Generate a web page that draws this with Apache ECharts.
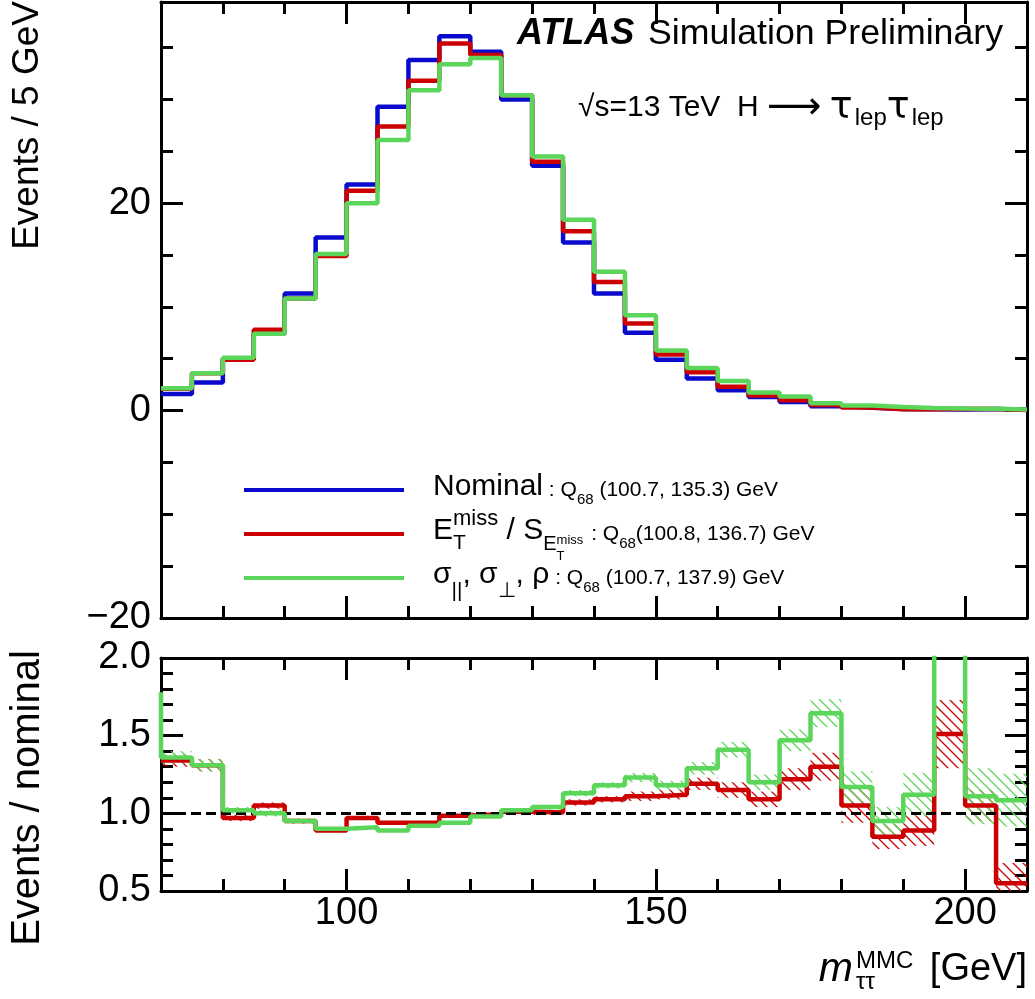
<!DOCTYPE html>
<html lang="en">
<head>
<meta charset="UTF-8">
<title>MMC mass</title>
<script src="https://cdn.jsdelivr.net/npm/echarts@6/dist/echarts.min.js"></script>
<style>
  html, body { margin: 0; padding: 0; background: #fff; }
  #main { width: 1035px; height: 999px; }
</style>
</head>
<body>
<div id="main"></div>
<script>
// bins of 5 GeV, low edges
var binLow = [70, 75, 80, 85, 90, 95, 100, 105, 110, 115, 120, 125, 130, 135,
              140, 145, 150, 155, 160, 165, 170, 175, 180, 185, 190, 195, 200, 205];
var xMin = 70, xMax = 210;

// top panel: events / 5 GeV
var nominal = [1.6, 2.7, 5.0, 7.4, 11.3, 16.7, 21.8, 29.3, 33.8, 36.1, 34.6, 30.0, 23.6, 16.2,
               11.3, 7.5, 4.9, 3.1, 1.95, 1.3, 0.84, 0.42, 0.28, 0.16, 0.14, 0.11, 0.15, 0.1];
var metSig  = [2.1, 3.6, 4.9, 7.8, 10.8, 14.9, 21.2, 27.4, 31.8, 35.4, 34.3, 30.4, 24.0, 17.3,
               12.4, 8.4, 5.4, 3.7, 2.3, 1.45, 1.0, 0.55, 0.3, 0.14, 0.12, 0.17, 0.16, 0.06];
var sigRho  = [2.15, 3.6, 5.1, 7.4, 10.8, 15.1, 20.0, 26.1, 30.9, 33.4, 34.0, 30.4, 24.5, 18.4,
               13.4, 9.2, 5.8, 4.1, 2.85, 1.75, 1.35, 0.7, 0.5, 0.35, 0.26, 0.2, 0.17, 0.11];

// bottom panel: ratio to nominal and its uncertainty
var ratioMet = [1.34, 1.31, 0.97, 1.05, 0.95, 0.89, 0.97, 0.94, 0.94, 0.985, 0.995, 1.01, 1.005, 1.07,
                1.09, 1.11, 1.12, 1.19, 1.15, 1.09, 1.22, 1.30, 1.05, 0.85, 0.89, 1.51, 1.05, 0.55];
var errMet   = [0.04, 0.04, 0.02, 0.02, 0.015, 0.01, 0.01, 0.01, 0.01, 0.01, 0.01, 0.01, 0.015, 0.02,
                0.02, 0.03, 0.03, 0.04, 0.05, 0.05, 0.07, 0.09, 0.11, 0.08, 0.1, 0.22, 0.1, 0.13];
var ratioSig = [1.36, 1.31, 1.02, 1.00, 0.95, 0.90, 0.91, 0.89, 0.92, 0.94, 0.98, 1.02, 1.04, 1.13,
                1.18, 1.23, 1.18, 1.29, 1.41, 1.20, 1.47, 1.645, 1.17, 0.95, 1.12, 2.5, 1.11, 1.085];
var errSig   = [0.04, 0.04, 0.02, 0.02, 0.015, 0.01, 0.01, 0.01, 0.01, 0.01, 0.01, 0.01, 0.015, 0.02,
                0.02, 0.03, 0.03, 0.04, 0.05, 0.05, 0.07, 0.09, 0.1, 0.09, 0.14, 0.3, 0.18, 0.17];
var sigUnderflow = 1.78;

// ticks
var xMajor = [100, 150, 200];
var xMinor = [80, 90, 110, 120, 130, 140, 160, 170, 180, 190];
var yTopRange = [-20, 39.4];
var yTopMajor = [-20, 0, 20];
var yTopMinor = [-15, -10, -5, 5, 10, 15, 25, 30, 35];
var yBotRange = [0.5, 2.0];
var yBotMajor = [0.5, 1.0, 1.5, 2.0];
var yBotMinor = [0.6, 0.7, 0.8, 0.9, 1.1, 1.2, 1.3, 1.4, 1.6, 1.7, 1.8, 1.9];

var F = "'Liberation Sans', Arial, Helvetica, sans-serif";
var DJ = "'DejaVu Sans', sans-serif";
var BLUE = '#0a0acc', RED = '#cc0000', GREEN = '#5bd65b';

function steps(vals) {
    var d = binLow.map(function (x, i) { return [x, vals[i]]; });
    d.push([xMax, vals[vals.length - 1]]);
    return d;
}

function hatch(color) {
    var c = document.createElement('canvas');
    c.width = 10; c.height = 10;
    var ctx = c.getContext('2d');
    ctx.strokeStyle = color;
    ctx.lineWidth = 1.3;
    ctx.beginPath();
    ctx.moveTo(-1, -1); ctx.lineTo(11, 11);
    ctx.moveTo(-1, 9); ctx.lineTo(1, 11);
    ctx.moveTo(9, -1); ctx.lineTo(11, 1);
    ctx.stroke();
    return c;
}

function axis(dim, g, pos, range, ticks, len, line, labels, fmt) {
    return {
        type: 'value', gridIndex: g, position: pos,
        min: range[0], max: range[1],
        axisLine: { show: line, onZero: false, lineStyle: { color: '#000', width: 3 } },
        axisTick: { show: true, inside: true, length: len, customValues: ticks,
                    lineStyle: { color: '#000', width: 3 } },
        axisLabel: labels ? {
            show: true, customValues: labels, formatter: fmt, color: '#000',
            fontSize: 38, fontFamily: F, margin: dim === 'x' ? 4 : 10
        } : { show: false },
        splitLine: { show: false },
        minorTick: { show: false }
    };
}

var xr = [xMin, xMax];
var minusFmt = function (v) { return v < 0 ? '\u2212' + Math.abs(v) : '' + v; };
var oneDec = function (v) { return v.toFixed(1); };

var xAxes = [
    axis('x', 0, 'bottom', xr, xMajor, 22, true),
    axis('x', 0, 'bottom', xr, xMinor, 12, false),
    axis('x', 0, 'top', xr, xMajor, 22, true),
    axis('x', 0, 'top', xr, xMinor, 12, false),
    axis('x', 1, 'bottom', xr, xMajor, 22, true, xMajor, function (v) { return '' + v; }),
    axis('x', 1, 'bottom', xr, xMinor, 12, false),
    axis('x', 1, 'top', xr, xMajor, 22, true),
    axis('x', 1, 'top', xr, xMinor, 12, false)
];
var yAxes = [
    axis('y', 0, 'left', yTopRange, yTopMajor, 22, true, yTopMajor, minusFmt),
    axis('y', 0, 'left', yTopRange, yTopMinor, 12, false),
    axis('y', 0, 'right', yTopRange, yTopMajor, 22, true),
    axis('y', 0, 'right', yTopRange, yTopMinor, 12, false),
    axis('y', 1, 'left', yBotRange, yBotMajor, 22, true, yBotMajor, oneDec),
    axis('y', 1, 'left', yBotRange, yBotMinor, 12, false),
    axis('y', 1, 'right', yBotRange, yBotMajor, 22, true),
    axis('y', 1, 'right', yBotRange, yBotMinor, 12, false)
];

function histLine(name, vals, color, xi, yi, z) {
    return {
        name: name, type: 'line', step: 'end', data: steps(vals),
        xAxisIndex: xi, yAxisIndex: yi, symbol: 'none', z: z,
        lineStyle: { color: color, width: 4.5 }, itemStyle: { color: color },
        clip: true
    };
}

function band(vals, errs, color, z) {
    var pat = { image: hatch(color), repeat: 'repeat' };
    return {
        type: 'custom', xAxisIndex: 4, yAxisIndex: 4, z: z, clip: true,
        data: binLow.map(function (x, i) { return [x, x + 5, vals[i] - errs[i], vals[i] + errs[i]]; }),
        encode: { x: [0, 1], y: [2, 3] },
        renderItem: function (params, api) {
            var a = api.coord([api.value(0), api.value(3)]);
            var b = api.coord([api.value(1), api.value(2)]);
            return { type: 'rect', shape: { x: a[0], y: a[1], width: b[0] - a[0], height: b[1] - a[1] },
                     style: { fill: pat } };
        }
    };
}

var sigRatioLine = histLine('sigRatio', ratioSig, GREEN, 4, 4, 5);
sigRatioLine.data.unshift([xMin, sigUnderflow]);

// rich-text token placed dy px below the centre of an L px line box
function tok(size, dy, L, extra) {
    var c = L / 2 + dy;
    var s = { fontSize: size, fontFamily: F, align: 'left' };
    if (dy === 0) { s.verticalAlign = 'middle'; s.height = L; s.lineHeight = L; }
    else if (c >= L / 2) { s.verticalAlign = 'bottom'; s.height = s.lineHeight = 2 * (L - c); }
    else { s.verticalAlign = 'top'; s.height = s.lineHeight = 2 * c; }
    for (var k in extra) s[k] = extra[k];
    return s;
}
var LL = 64;
var legRich = {
    m: tok(30, 0, LL),
    q: tok(21, 3, LL),
    qs: tok(15, 13, LL),
    tw: tok(21, 12, LL, { width: 0 }),
    sup: tok(22, -12, LL),
    sub: tok(21, 16, LL),
    es: tok(20, 13, LL),
    ets: tok(13, 25, LL, { width: 0 }),
    esup: tok(13, 9, LL, { padding: [0, 2, 0, 0] })
};

// legend rows: series, vertical centre of the entry, label
var legendRows = [
    ['nominal', 489, '{m|Nominal}{q| : Q}{qs|68}{q| (100.7, 135.3) GeV}'],
    ['met', 533, '{m|E}{tw|T}{sup|miss}{m| / S}{es|E}{ets|T}{esup|miss}{q| : Q}{qs|68}{q|(100.8, 136.7) GeV}'],
    ['sig', 577, '{m|\u03c3}{sub|||}{m|, \u03c3}{sub|\u22a5}{m|, \u03c1}{q| : Q}{qs|68}{q| (100.7, 137.9) GeV}']
];

var legends = legendRows.map(function (r) {
    return {
        left: 239, top: r[1] - 6, icon: 'rect', itemWidth: 160, itemHeight: 4,
        selectedMode: false, data: [r[0]],
        formatter: function () { return ''; },
        textStyle: { fontSize: 1 }
    };
});

var legendTexts = legendRows.map(function (r) {
    return { type: 'text', x: 433, y: r[1] - 2, style: {
        text: r[2], fill: '#000', rich: legRich,
        align: 'left', textAlign: 'left', verticalAlign: 'middle', textVerticalAlign: 'middle' } };
});

var option = {
    animation: false,
    backgroundColor: '#fff',
    textStyle: { fontFamily: F },
    grid: [
        { left: 161, top: 2, width: 866, height: 616 },
        { left: 161, top: 658, width: 866, height: 233 }
    ],
    xAxis: xAxes,
    yAxis: yAxes,
    legend: legends,
    graphic: [
        { type: 'text', x: 517, y: 34, style: { text: 'ATLAS', font: 'italic bold 36px ' + F,
          fill: '#000', verticalAlign: 'middle', textVerticalAlign: 'middle' } },
        { type: 'text', x: 648, y: 34, style: { text: 'Simulation Preliminary', font: '35.7px ' + F,
          fill: '#000', verticalAlign: 'middle', textVerticalAlign: 'middle' } },
        { type: 'text', x: 578, y: 83, style: {
            text: '{a|\u221as=13 TeV  H }{r|\u27f6}{a| }{t|\u03c4}{b|lep}{t|\u03c4}{b|lep}', fill: '#000',
            rich: { a: tok(30, 0, 50),
                    r: tok(38, 0, 50, { fontFamily: DJ }),
                    t: tok(38, 0, 50, { fontFamily: DJ }),
                    b: tok(24, 10, 50, { padding: [0, 0, 0, 2] }) } } },
        { type: 'text', x: 28, y: 1, rotation: Math.PI / 2, style: { text: 'Events / 5 GeV',
          font: '37px ' + F, fill: '#000', align: 'right', textAlign: 'right',
          verticalAlign: 'middle', textVerticalAlign: 'middle' } },
        { type: 'text', x: 28, y: 798, rotation: Math.PI / 2, style: { text: 'Events / nominal',
          font: '40px ' + F, fill: '#000', align: 'center', textAlign: 'center',
          verticalAlign: 'middle', textVerticalAlign: 'middle' } },
        { type: 'text', x: 1027, y: 970, style: {
            text: '{it|m}{sb|\u03c4\u03c4}{sp|MMC}{n| [GeV]}', fill: '#000',
            align: 'right', textAlign: 'right', verticalAlign: 'middle', textVerticalAlign: 'middle',
            rich: { it: tok(41, 0, 60, { fontStyle: 'italic', padding: [0, 3, 0, 0] }),
                    sb: tok(24, 12, 60, { width: 0 }),
                    sp: tok(24, -9, 60),
                    n: tok(38, 0, 60, { padding: [0, 0, 0, 6] }) } } }
    ].concat(legendTexts),
    series: [
        histLine('nominal', nominal, BLUE, 0, 0, 2),
        histLine('met', metSig, RED, 0, 0, 3),
        histLine('sig', sigRho, GREEN, 0, 0, 4),
        band(ratioMet, errMet, RED, 2),
        band(ratioSig, errSig, GREEN, 2),
        histLine('metRatio', ratioMet, RED, 4, 4, 4),
        sigRatioLine,
        {
            type: 'line', xAxisIndex: 4, yAxisIndex: 4, data: [], z: 10, silent: true,
            markLine: { silent: true, symbol: 'none', label: { show: false },
                lineStyle: { color: '#000', type: [10, 5], width: 3 },
                data: [{ yAxis: 1.0 }] }
        }
    ]
};

var chart = echarts.init(document.getElementById('main'));
chart.setOption(option);
</script>
</body>
</html>
